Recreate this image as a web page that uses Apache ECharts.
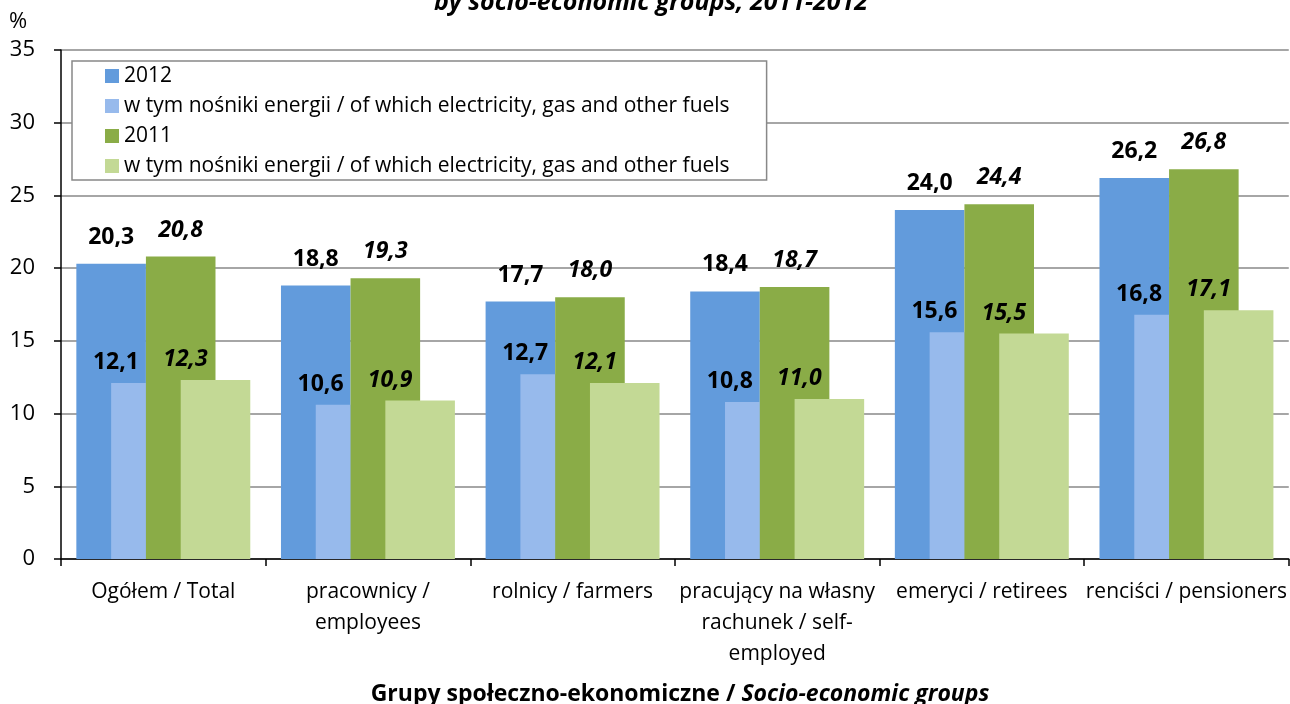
<!DOCTYPE html>
<html>
<head>
<meta charset="utf-8">
<script src="https://cdn.jsdelivr.net/npm/echarts@6/dist/echarts.min.js"></script>
<style>
  html, body { margin: 0; padding: 0; background: #fff; }
  #chart { width: 1290px; height: 704px; }
</style>
</head>
<body>
<div id="chart"></div>
<script>
const categories = [
  'Ogółem / Total',
  'pracownicy /\nemployees',
  'rolnicy / farmers',
  'pracujący na własny\nrachunek / self-\nemployed',
  'emeryci / retirees',
  'renciści / pensioners'
];
const total2012 = [20.3, 18.8, 17.7, 18.4, 24.0, 26.2];
const energy2012 = [12.1, 10.6, 12.7, 10.8, 15.6, 16.8];
const total2011 = [20.8, 19.3, 18.0, 18.7, 24.4, 26.8];
const energy2011 = [12.3, 10.9, 12.1, 11.0, 15.5, 17.1];
const yTicks = [0, 5, 10, 15, 20, 25, 30, 35];

const font = '"Open Sans", sans-serif';
const energyName = 'w tym nośniki energii / of which electricity, gas and other fuels';
const fmt = p => p.value.toFixed(1).replace('.', ',');

const chart = echarts.init(document.getElementById('chart'));

function barSeries(name, data, color, italic, distance, shift) {
  return {
    name: name,
    type: 'bar',
    data: data,
    barGap: '-50%',
    barCategoryGap: '15%',
    itemStyle: { color: color },
    label: {
      show: true,
      position: 'top',
      distance: distance,
      offset: [shift, 0],
      formatter: fmt,
      color: '#000',
      fontFamily: font,
      fontWeight: 'bold',
      fontStyle: italic ? 'italic' : 'normal',
      fontSize: 23
    }
  };
}

chart.setOption({
  animation: false,
  textStyle: { fontFamily: font },
  grid: { left: 61, right: 0, top: 50, bottom: 145 },
  title: {
    text: '{a|Grupy społeczno-ekonomiczne / }{b|Socio-economic groups}',
    left: 680,
    top: 683,
    textAlign: 'center',
    padding: 0,
    textStyle: {
      rich: {
        a: { fontFamily: font, fontWeight: 'bold', fontSize: 23, color: '#000' },
        b: { fontFamily: font, fontWeight: 'bold', fontStyle: 'italic', fontSize: 23, color: '#000' }
      }
    }
  },
  graphic: [
    {
      type: 'text', left: 9, top: 11,
      style: { text: '%', fontFamily: font, fontSize: 22, fill: '#000' }
    },
    {
      type: 'text', x: 651, y: 3,
      style: {
        text: 'by socio-economic groups, 2011-2012', fontFamily: font, fontSize: 25,
        fontWeight: 'bold', fontStyle: 'italic', fill: '#000',
        align: 'center', verticalAlign: 'middle'
      }
    }
  ],
  legend: {
    orient: 'vertical',
    left: 72,
    top: 61,
    padding: [4, 37, 3, 33],
    backgroundColor: '#fff',
    borderColor: '#888',
    borderWidth: 1.5,
    borderRadius: 0,
    itemWidth: 14,
    itemHeight: 14,
    itemGap: 8,
    icon: 'rect',
    textStyle: { fontFamily: font, fontSize: 21, color: '#000', lineHeight: 22 },
    data: ['2012', energyName, '2011', energyName + '\u200b']
  },
  xAxis: {
    type: 'category',
    data: categories,
    axisLine: { lineStyle: { color: '#000', width: 1.5 } },
    axisTick: { show: true, length: 7, lineStyle: { color: '#000', width: 1.5 } },
    axisLabel: {
      interval: 0, margin: 18, color: '#000',
      fontFamily: font, fontSize: 21, lineHeight: 31
    }
  },
  yAxis: {
    type: 'value',
    min: yTicks[0],
    max: yTicks[yTicks.length - 1],
    interval: 5,
    axisLine: { show: true, lineStyle: { color: '#000', width: 1.5 } },
    axisTick: { show: true, length: 7, lineStyle: { color: '#000', width: 1.5 } },
    axisLabel: { margin: 26, color: '#000', fontFamily: font, fontSize: 22 },
    splitLine: { lineStyle: { color: '#888', width: 1.5 } }
  },
  series: [
    barSeries('2012', total2012, '#629BDC', false, 15, 0),
    barSeries(energyName, energy2012, '#97BAEC', false, 9, -30),
    barSeries('2011', total2011, '#8AAC47', true, 15, 0),
    barSeries(energyName + '\u200b', energy2011, '#C3D995', true, 9, -30)
  ]
});
</script>
</body>
</html>
